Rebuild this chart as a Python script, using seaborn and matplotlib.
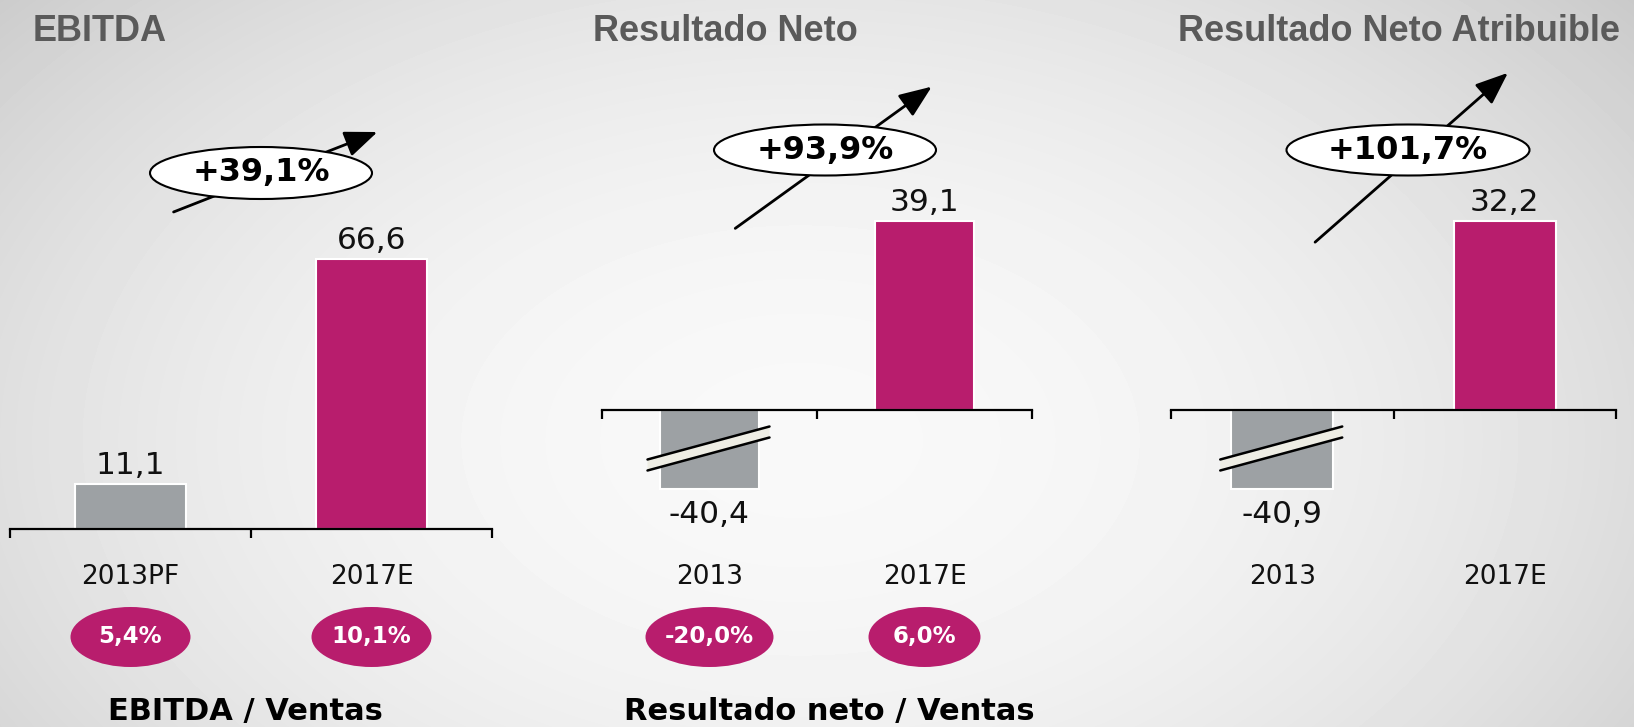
import numpy as np
import matplotlib
matplotlib.use("Agg")
import matplotlib.pyplot as plt
import matplotlib.transforms as mtransforms
import seaborn as sns
from matplotlib.patches import Ellipse, FancyArrowPatch, Polygon
from matplotlib.lines import Line2D

# ---- data ----
titles = ["EBITDA", "Resultado Neto", "Resultado Neto Atribuible"]
ebitda_years = ["2013PF", "2017E"]
ebitda_values = [11.1, 66.6]
neto_years = ["2013", "2017E"]
neto_values = [-40.4, 39.1]
atrib_years = ["2013", "2017E"]
atrib_values = [-40.9, 32.2]
growth = [39.1, 93.9, 101.7]
ebitda_margin = [5.4, 10.1]
neto_margin = [-20.0, 6.0]
ratio_titles = ["EBITDA / Ventas", "Resultado neto / Ventas", None]

GREY = "#9DA1A4"
PINK = "#B81D6D"
W, H = 1634, 727


def fmt(v):
    return f"{v:.1f}".replace(".", ",")


sns.set_theme(style="white")
plt.rcParams["font.family"] = ["DejaVu Sans"]

fig = plt.figure(figsize=(W / 100, H / 100), dpi=100)

# soft grey sky in the background
yy, xx = np.mgrid[0:H, 0:W]
dx = (xx - 800) / 820
dy = (yy - 440) / 520
sky = 0.975 - 0.105 * (dx ** 2 + dy ** 2)
bg = fig.add_axes([0, 0, 1, 1], zorder=-10)
bg.imshow(sky, cmap="gray", vmin=0, vmax=1, aspect="auto", extent=(0, W, H, 0))
bg.axis("off")

to_fig = fig.transFigure.inverted()


def fx(x):
    return x / W


def fy(y):
    return 1 - y / H


# pixel layout of the three panels: axis span, zero line, px per unit, squash of negatives
layout = [
    dict(x0=10, x1=492, zero=529, scale=4.05, k=1.0),
    dict(x0=602, x1=1032, zero=410, scale=4.83, k=0.405),
    dict(x0=1171, x1=1616, zero=410, scale=5.87, k=0.33),
]
title_x = [33, 593, 1178]
badges = [
    dict(c=(261, 173), w=222, h=52, tail=(171, 213), tip=(380, 131)),
    dict(c=(825, 150), w=222, h=51, tail=(733, 230), tip=(934, 85)),
    dict(c=(1408, 150), w=243, h=51, tail=(1313, 244), tip=(1510, 71)),
]
bottom_x = [245, 829, None]
badge_w = [[120, 120], [128, 112], None]

panels = [
    (ebitda_years, ebitda_values, ebitda_margin),
    (neto_years, neto_values, neto_margin),
    (atrib_years, atrib_values, None),
]

for p, (cats, vals, margins) in enumerate(panels):
    lay = layout[p]
    ax = fig.add_axes([fx(lay["x0"]), 0, (lay["x1"] - lay["x0"]) / W, 1])
    ax.set_facecolor("none")

    sns.barplot(x=cats, y=vals, hue=cats, palette=[GREY, PINK], width=0.46,
                saturation=1, edgecolor="white", linewidth=1.5, legend=False, ax=ax)

    k = lay["k"]
    if k != 1.0:
        ax.set_yscale("function",
                      functions=(lambda y, k=k: np.where(y < 0, y * k, y),
                                 lambda y, k=k: np.where(y < 0, y / k, y)))
    lo = -(H - lay["zero"]) / lay["scale"] / k
    hi = lay["zero"] / lay["scale"]
    ax.set_ylim(lo, hi)
    ax.set_xlim(-0.5, 1.5)

    for side in ["top", "right", "left"]:
        ax.spines[side].set_visible(False)
    ax.spines["bottom"].set_position(("data", 0))
    ax.spines["bottom"].set_color("black")
    ax.spines["bottom"].set_linewidth(1.6)
    ax.set_xticks([-0.5, 0.5, 1.5])
    ax.set_yticks([])
    ax.tick_params(axis="x", bottom=True, direction="out", length=6.5, width=1.6,
                   color="black", labelbottom=False)
    ax.set_xlabel("")
    ax.set_ylabel("")

    for cont, v in zip(ax.containers, vals):
        ax.bar_label(cont, labels=[fmt(v)], padding=3 if v > 0 else 8,
                     fontsize=22.5, color="#111111")

    blend = mtransforms.blended_transform_factory(ax.transData, fig.transFigure)
    for i, c in enumerate(cats):
        ax.text(i, fy(577), c, transform=blend, ha="center", va="center",
                fontsize=19, color="#111111")

    # broken-bar marker on the squashed negative bars
    for i, v in enumerate(vals):
        if v < 0:
            cx, zy = ax.transData.transform((i, 0))
            left, right = cx - 62, cx + 60
            yl, yr = zy - 55, zy - 22
            t = 5.5
            pts = to_fig.transform([(left, yl + t), (right, yr + t), (right, yr - t), (left, yl - t)])
            fig.add_artist(Polygon(pts, closed=True, facecolor="#EEEDE4", edgecolor="none",
                                   transform=fig.transFigure, zorder=5))
            for a, b in [(0, 1), (3, 2)]:
                fig.add_artist(Line2D([pts[a][0], pts[b][0]], [pts[a][1], pts[b][1]],
                                      color="black", lw=1.8, transform=fig.transFigure, zorder=6))

    # margin badges under each year
    if margins is not None:
        for i, m in enumerate(margins):
            cx = to_fig.transform(ax.transData.transform((i, 0)))[0]
            fig.add_artist(Ellipse((cx, fy(637)), badge_w[p][i] / W, 60 / H, facecolor=PINK,
                                   edgecolor="none", transform=fig.transFigure, zorder=5))
            fig.text(cx, fy(637), fmt(m) + "%", ha="center", va="center", fontsize=16.5,
                     fontweight="bold", color="white", zorder=7)

    # panel title
    fig.text(fx(title_x[p]), fy(41), titles[p], ha="left", va="baseline", fontsize=26,
             fontweight="bold", color="#5a5a5a", family=["Liberation Sans", "DejaVu Sans"])

    # growth arrow with oval label
    bd = badges[p]
    fig.add_artist(FancyArrowPatch((fx(bd["tail"][0]), fy(bd["tail"][1])),
                                   (fx(bd["tip"][0]), fy(bd["tip"][1])),
                                   transform=fig.transFigure,
                                   arrowstyle="-|>,head_length=1.0,head_width=0.4",
                                   mutation_scale=20, lw=2, color="black", zorder=5))
    fig.add_artist(Ellipse((fx(bd["c"][0]), fy(bd["c"][1])), bd["w"] / W, bd["h"] / H,
                           facecolor="white", edgecolor="black", lw=1.5,
                           transform=fig.transFigure, zorder=6))
    fig.text(fx(bd["c"][0]), fy(bd["c"][1]), "+" + fmt(growth[p]) + "%", ha="center",
             va="center", fontsize=23, fontweight="bold", color="black", zorder=7)

    if ratio_titles[p] is not None:
        fig.text(fx(bottom_x[p]), fy(720), ratio_titles[p], ha="center", va="baseline",
                 fontsize=22, fontweight="bold", color="black")

fig.savefig("out.png", dpi=100)
